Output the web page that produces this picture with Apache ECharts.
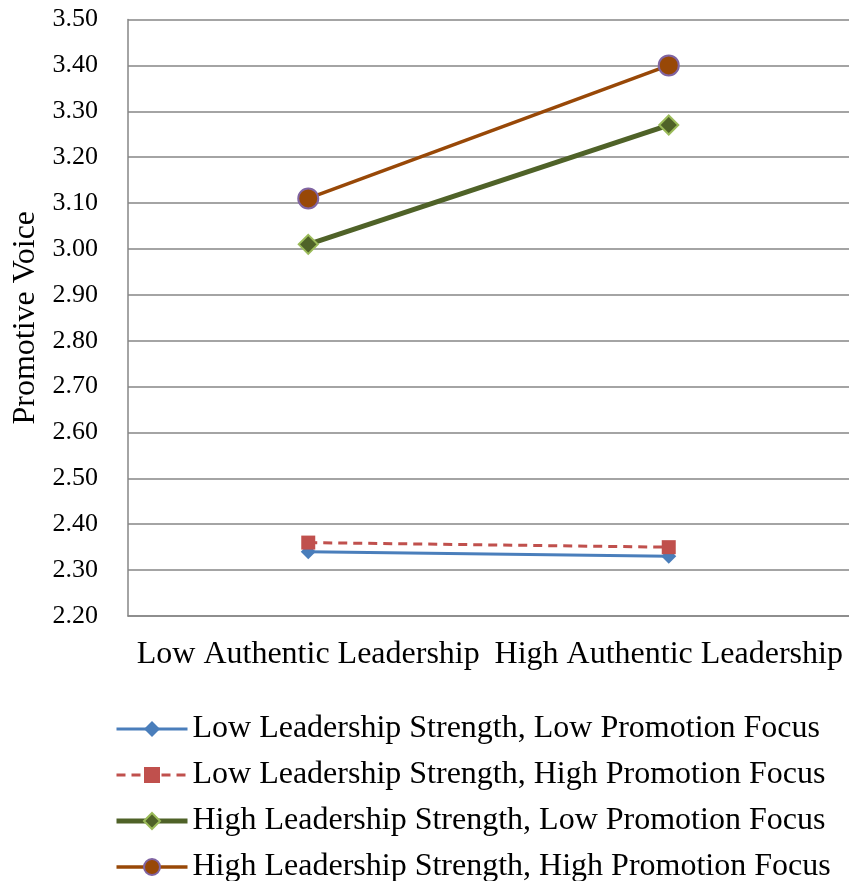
<!DOCTYPE html>
<html>
<head>
<meta charset="utf-8">
<script src="https://cdn.jsdelivr.net/npm/echarts@6/dist/echarts.min.js"></script>
<style>
  html, body { margin: 0; padding: 0; background: #fff; }
  #chart { width: 849px; height: 881px; }
</style>
</head>
<body>
<div id="chart"></div>
<script>
// Categories along the x axis
const categories = ['Low Authentic Leadership', 'High Authentic Leadership'];

// Series names and values (Promotive Voice)
const seriesNames = [
  'Low Leadership Strength, Low Promotion Focus',
  'Low Leadership Strength, High Promotion Focus',
  'High Leadership Strength, Low Promotion Focus',
  'High Leadership Strength, High Promotion Focus'
];
const lowStrengthLowFocus = [2.34, 2.33];
const lowStrengthHighFocus = [2.36, 2.35];
const highStrengthLowFocus = [3.01, 3.27];
const highStrengthHighFocus = [3.11, 3.40];

// Y axis range
const yMin = 2.2;
const yMax = 3.5;
const yStep = 0.1;

const FONT = '"Liberation Serif", "Times New Roman", serif';

// Per-series look: line, marker
const styles = [
  { color: '#4A7EBB', width: 3, type: 'solid', symbol: 'diamond', size: 15, fill: '#4A7EBB', border: '#4A7EBB', bw: 0 },
  { color: '#C0504D', width: 3, type: [9, 6], symbol: 'rect', size: 14, fill: '#C0504D', border: '#C0504D', bw: 0 },
  { color: '#4F6228', width: 5, type: 'solid', symbol: 'diamond', size: 19, fill: '#4F6228', border: '#9BBB59', bw: 2 },
  { color: '#984807', width: 3.5, type: 'solid', symbol: 'circle', size: 20, fill: '#984807', border: '#8064A2', bw: 2 }
];
const seriesData = [lowStrengthLowFocus, lowStrengthHighFocus, highStrengthLowFocus, highStrengthHighFocus];

const chart = echarts.init(document.getElementById('chart'), null, { renderer: 'canvas' });

chart.setOption({
  backgroundColor: '#ffffff',
  animation: false,
  grid: { left: 128, top: 19.5, width: 722, height: 596.5, containLabel: false },
  xAxis: {
    type: 'category',
    data: categories,
    boundaryGap: true,
    axisLine: { show: true, lineStyle: { color: '#868686', width: 1.5 } },
    axisTick: { show: false },
    axisLabel: { color: '#000', fontFamily: FONT, fontSize: 32, margin: 23, interval: 0 },
    splitLine: { show: false }
  },
  yAxis: {
    type: 'value',
    min: yMin,
    max: yMax,
    interval: yStep,
    name: 'Promotive Voice',
    nameLocation: 'middle',
    nameGap: 86,
    nameRotate: 90,
    nameTextStyle: { color: '#000', fontFamily: FONT, fontSize: 32 },
    axisLine: { show: true, lineStyle: { color: '#868686', width: 1.5 } },
    axisTick: { show: false },
    axisLabel: {
      color: '#000', fontFamily: FONT, fontSize: 26, margin: 30,
      formatter: v => v.toFixed(2)
    },
    splitLine: { show: true, lineStyle: { color: '#868686', width: 1.5 } }
  },
  legend: {
    orient: 'vertical',
    left: 114,
    top: 713,
    height: 220,
    padding: 0,
    itemWidth: 71,
    itemHeight: 20,
    itemGap: 14,
    textStyle: { color: '#000', fontFamily: FONT, fontSize: 32 },
    data: seriesNames.map((name, i) => ({
      name: name,
      lineStyle: { width: styles[i].width, type: styles[i].type, color: styles[i].color },
      itemStyle: { borderWidth: styles[i].bw, borderColor: styles[i].border, color: styles[i].fill }
    }))
  },
  series: seriesNames.map((name, i) => ({
    name: name,
    type: 'line',
    data: seriesData[i],
    symbol: styles[i].symbol,
    symbolSize: styles[i].size,
    lineStyle: { color: styles[i].color, width: styles[i].width, type: styles[i].type },
    itemStyle: { color: styles[i].fill, borderColor: styles[i].border, borderWidth: styles[i].bw },
    z: 2 + i
  }))
});
</script>
</body>
</html>
